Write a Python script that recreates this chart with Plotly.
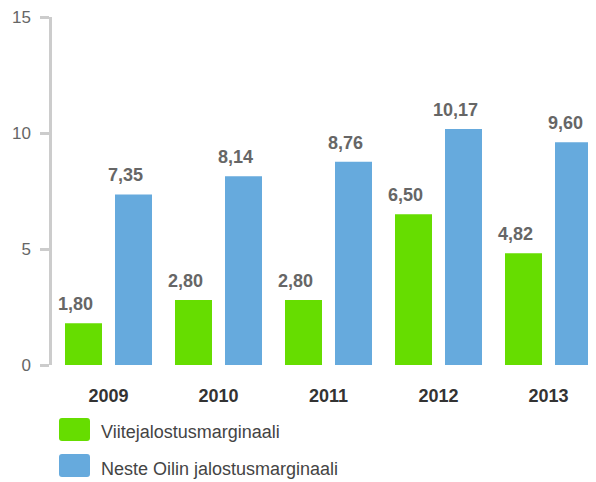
import plotly.graph_objects as go

years = ["2009", "2010", "2011", "2012", "2013"]
series_names = ["Viitejalostusmarginaali", "Neste Oilin jalostusmarginaali"]
viite = [1.80, 2.80, 2.80, 6.50, 4.82]
neste = [7.35, 8.14, 8.76, 10.17, 9.60]
colors = ["#66dd00", "#66aadd"]
y_ticks = [0, 5, 10, 15]

FONT = "Arial, Liberation Sans, sans-serif"
OFF = 8  # page body margin
W, H = 596 - OFF, 482 - OFF
L, R, T = 52 - OFF, 0, 17 - OFF
B = H - (365 - OFF)
PW, PH = W - L - R, H - T - B

fig = go.Figure()
for name, vals, col in zip(series_names, [viite, neste], colors):
    fig.add_trace(go.Bar(x=years, y=vals, name=name, marker=dict(color=col, line=dict(width=0)),
                         hoverinfo="skip", showlegend=False))

ann = []
for k, vals in enumerate([viite, neste]):
    off = -25 if k == 0 else 25
    for i, v in enumerate(vals):
        ann.append(dict(x=i, y=v, xref="x", yref="y",
                        text="<b>" + f"{v:.2f}".replace(".", ",") + "</b>",
                        showarrow=False, xshift=off - 8, yshift=19, yanchor="middle",
                        font=dict(family=FONT, size=18, color="#666666")))

shapes = []
def px_to_paper(px, py):
    return (px - OFF - L) / PW, (H - B - (py - OFF)) / PH

def rounded_rect(x0p, y0p, x1p, y1p, r=3):
    pts = []
    def P(px, py):
        a, b = px_to_paper(px, py)
        return f"{a:.5f},{b:.5f}"
    return (f"M {P(x0p + r, y0p)} L {P(x1p - r, y0p)} Q {P(x1p, y0p)} {P(x1p, y0p + r)} "
            f"L {P(x1p, y1p - r)} Q {P(x1p, y1p)} {P(x1p - r, y1p)} "
            f"L {P(x0p + r, y1p)} Q {P(x0p, y1p)} {P(x0p, y1p - r)} "
            f"L {P(x0p, y0p + r)} Q {P(x0p, y0p)} {P(x0p + r, y0p)} Z")

legend_rows = [(418, 441), (454, 477)]
for name, col, (y0p, y1p) in zip(series_names, colors, legend_rows):
    shapes.append(dict(type="path", xref="paper", yref="paper", path=rounded_rect(59, y0p, 90, y1p),
                       fillcolor=col, line=dict(width=0), layer="above"))
    tx, ty = px_to_paper(99, (y0p + y1p) / 2 + 3)
    ann.append(dict(x=tx, y=ty, xref="paper", yref="paper", text=name, showarrow=False,
                    xanchor="left", yanchor="middle",
                    font=dict(family=FONT, size=18, color="#444444")))

r0 = -56.5 / 110
r1 = r0 + PW / 110

fig.update_layout(
    width=W, height=H, autosize=False,
    margin=dict(l=L, r=R, t=T, b=B, pad=0, autoexpand=False),
    plot_bgcolor="white", paper_bgcolor="white",
    barmode="group", bargap=10 / 110, bargroupgap=0.26,
    showlegend=False,
    annotations=ann, shapes=shapes,
    xaxis=dict(type="category", range=[r0, r1], showline=False, showgrid=False, zeroline=False,
               ticks="", ticklabelstandoff=18, automargin=False,
               tickfont=dict(family=FONT, size=18, color="#333333", weight="bold")),
    yaxis=dict(range=[0, 15], tickvals=y_ticks, showgrid=False, zeroline=False,
               showline=True, linecolor="#cccccc", linewidth=2.5, automargin=False,
               ticks="outside", ticklen=9, tickwidth=3, tickcolor="#cccccc",
               ticklabelstandoff=6, ticklabeloverflow="allow",
               tickfont=dict(family=FONT, size=17, color="#666666")),
)

fig.write_html("out.html")
